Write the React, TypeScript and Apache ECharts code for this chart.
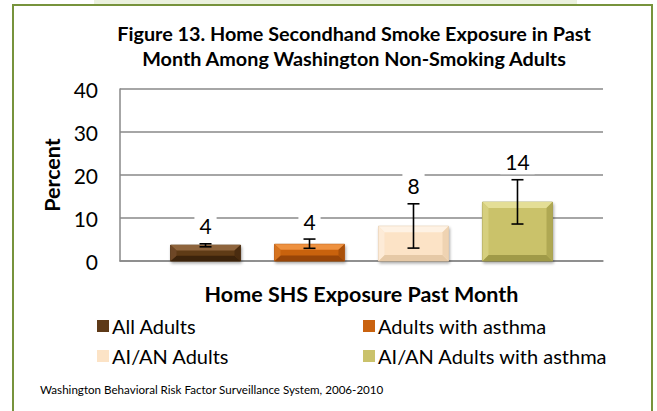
import React, { useEffect, useRef } from "react";
import * as echarts from "echarts";

const seriesNames = ["All Adults", "Adults with asthma", "AI/AN Adults", "AI/AN Adults with asthma"];
const values = [3.7, 3.9, 8.1, 13.7];
const ciLow = [3.3, 2.95, 3.0, 8.6];
const ciHigh = [4.0, 5.1, 13.3, 18.9];
const category = ["Home SHS Exposure Past Month"];
const yMin = 0;
const yMax = 40;
const yInterval = 10;

const titleLines = [
  "Figure 13. Home Secondhand Smoke Exposure in Past",
  "Month Among Washington Non-Smoking Adults",
];
const footnote = "Washington Behavioral Risk Factor Surveillance System, 2006-2010";

// bevel palettes: main, top, left, right, bottom
const palettes = [
  { main: "#5E3A18", top: "#8E643C", left: "#6E4726", right: "#4A2C10", bottom: "#3C230B", stroke: "#4a2c10" },
  { main: "#C9620F", top: "#EE913F", left: "#D6731F", right: "#A9500A", bottom: "#984508", stroke: "#a9500a" },
  { main: "#FCE3C6", top: "#FEF2E4", left: "#FDEBD7", right: "#EFD3B2", bottom: "#E6C9A6", stroke: "#dcc3a3" },
  { main: "#CAC26B", top: "#E4DE96", left: "#D6CF7E", right: "#AFA853", bottom: "#A09A48", stroke: "#9c9646" },
];

const FONT = "Lato, 'Liberation Sans', sans-serif";

export default function App() {
  const ref = useRef<HTMLDivElement>(null);

  useEffect(() => {
    if (!ref.current) return;
    const chart = echarts.init(ref.current, null, { renderer: "svg" });

    const series = seriesNames.map((name, si) => ({
      type: "custom",
      name,
      itemStyle: { color: palettes[si].main },
      encode: { x: 0, y: 1 },
      data: [[0, values[si], ciLow[si], ciHigh[si]]],
      renderItem: (params: any, api: any) => {
        const idx = params.seriesIndex;
        const p = palettes[idx];
        const base = api.coord([api.value(0), 0]);
        const band = api.size([1, 0])[0];
        const cx = base[0] + (idx - 1.5) * band * 0.2153;
        const w = band * 0.145;
        const x0 = cx - w / 2;
        const x1 = cx + w / 2;
        const yb = base[1];
        const yt = api.coord([api.value(0), api.value(1)])[1];
        const h = yb - yt;
        const bh = 6;
        const bv = Math.min(6, h / 3);
        const lo = api.coord([api.value(0), api.value(2)])[1];
        const hi = api.coord([api.value(0), api.value(3)])[1];
        const cap = 6;
        const errStyle = { stroke: "#000", lineWidth: 1.6 };
        return {
          type: "group",
          children: [
            {
              type: "rect",
              shape: { x: x0, y: yt, width: w, height: h },
              style: {
                fill: p.main,
                stroke: p.stroke,
                lineWidth: 0.8,
                shadowBlur: 3,
                shadowColor: "rgba(0,0,0,0.35)",
                shadowOffsetX: 1,
                shadowOffsetY: 2,
              },
            },
            {
              type: "polygon",
              shape: { points: [[x0, yt], [x1, yt], [x1 - bh, yt + bv], [x0 + bh, yt + bv]] },
              style: { fill: p.top },
            },
            {
              type: "polygon",
              shape: { points: [[x0, yb], [x1, yb], [x1 - bh, yb - bv], [x0 + bh, yb - bv]] },
              style: { fill: p.bottom },
            },
            {
              type: "polygon",
              shape: { points: [[x0, yt], [x0 + bh, yt + bv], [x0 + bh, yb - bv], [x0, yb]] },
              style: { fill: p.left },
            },
            {
              type: "polygon",
              shape: { points: [[x1, yt], [x1 - bh, yt + bv], [x1 - bh, yb - bv], [x1, yb]] },
              style: { fill: p.right },
            },
            { type: "line", shape: { x1: cx, y1: lo, x2: cx, y2: hi }, style: errStyle },
            { type: "line", shape: { x1: cx - cap, y1: lo, x2: cx + cap, y2: lo }, style: errStyle },
            { type: "line", shape: { x1: cx - cap, y1: hi, x2: cx + cap, y2: hi }, style: errStyle },
            {
              type: "text",
              style: {
                text: String(Math.round(api.value(1))),
                x: cx,
                y: hi - 18,
                align: "center",
                verticalAlign: "middle",
                fontSize: 21,
                fontFamily: FONT,
                fill: "#000",
                backgroundColor: "#fff",
                padding: [2, 5],
              },
            },
          ],
        };
      },
    }));

    const legendText = { fontSize: 20, fontFamily: FONT, color: "#000", padding: [0, 0, 0, -2] };

    chart.setOption({
      animation: false,
      backgroundColor: "#fff",
      grid: { left: 120, top: 89, right: 54, bottom: 150 },
      xAxis: {
        type: "category",
        data: category,
        axisLine: { show: true, lineStyle: { color: "#888", width: 1.5 } },
        axisTick: { show: false },
        axisLabel: { show: false },
        name: category[0],
        nameLocation: "middle",
        nameGap: 22,
        nameTextStyle: { fontSize: 21.5, fontWeight: "bold", fontFamily: FONT, color: "#000" },
      },
      yAxis: {
        type: "value",
        min: yMin,
        max: yMax,
        interval: yInterval,
        axisLine: { show: true, lineStyle: { color: "#888", width: 1.5 } },
        axisTick: { show: false },
        axisLabel: { fontSize: 21, fontFamily: FONT, color: "#000", margin: 22 },
        splitLine: { lineStyle: { color: "#888", width: 1.5 } },
      },
      legend: [
        {
          data: [seriesNames[0], seriesNames[2]],
          orient: "vertical",
          left: 97,
          top: 316,
          padding: 0,
          itemWidth: 12,
          itemHeight: 12,
          itemGap: 10,
          icon: "rect",
          textStyle: legendText,
        },
        {
          data: [seriesNames[1], seriesNames[3]],
          orient: "vertical",
          left: 363,
          top: 316,
          padding: 0,
          itemWidth: 12,
          itemHeight: 12,
          itemGap: 10,
          icon: "rect",
          textStyle: legendText,
        },
      ],
      graphic: [
        { type: "rect", shape: { x: 94, y: 0, width: 483, height: 6 }, style: { fill: "#EBF1DE" }, z: 0 },
        {
          type: "rect",
          shape: { x: 13, y: 5, width: 639, height: 420 },
          style: { fill: "none", stroke: "#77933C", lineWidth: 2 },
          z: 1,
        },
        {
          type: "text",
          x: 354,
          y: 33,
          style: {
            text: titleLines[0],
            align: "center",
            verticalAlign: "middle",
            fontSize: 19.8,
            fontWeight: "bold",
            fontFamily: FONT,
            fill: "#000",
          },
        },
        {
          type: "text",
          x: 354,
          y: 58,
          style: {
            text: titleLines[1],
            align: "center",
            verticalAlign: "middle",
            fontSize: 19.8,
            fontWeight: "bold",
            fontFamily: FONT,
            fill: "#000",
          },
        },
        {
          type: "text",
          x: 52,
          y: 175,
          rotation: Math.PI / 2,
          style: {
            text: "Percent",
            align: "center",
            verticalAlign: "middle",
            fontSize: 21.5,
            fontWeight: "bold",
            fontFamily: FONT,
            fill: "#000",
          },
        },
        {
          type: "text",
          x: 40,
          y: 389,
          style: {
            text: footnote,
            align: "left",
            verticalAlign: "middle",
            fontSize: 11.6,
            fontFamily: FONT,
            fill: "#000",
          },
        },
      ],
      series,
    });

    return () => chart.dispose();
  }, []);

  return (
    <div
      ref={ref}
      style={{ position: "fixed", left: 0, top: 0, width: 657, height: 411 }}
    />
  );
}
